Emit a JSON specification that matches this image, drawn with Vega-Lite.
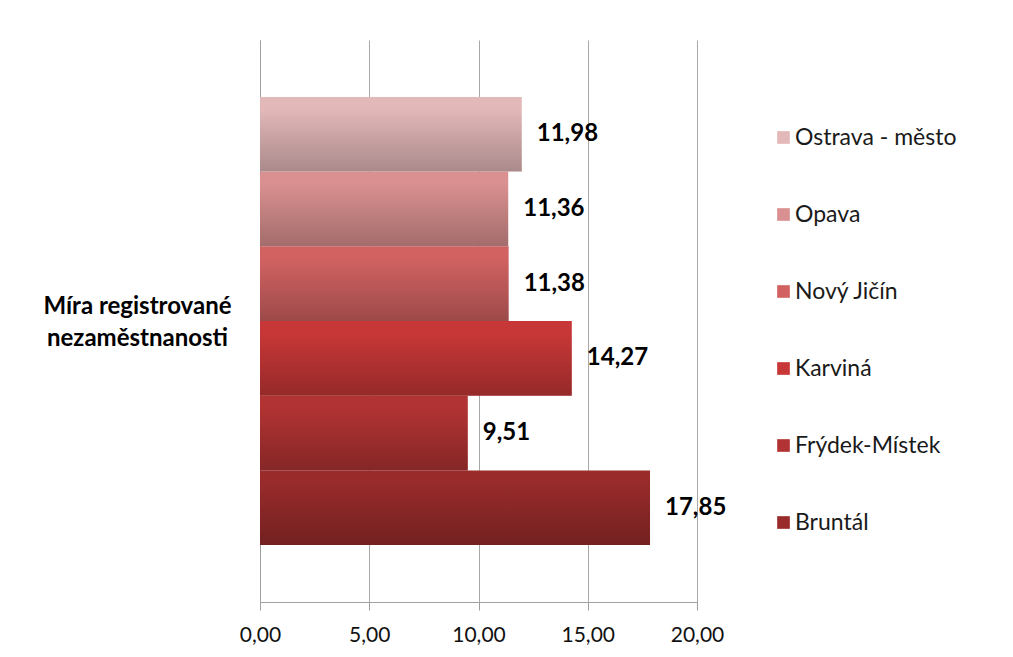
{
  "$schema": "https://vega.github.io/schema/vega-lite/v6.json",
  "width": 437,
  "height": 562,
  "autosize": {"type": "none"},
  "padding": {"left": 260, "top": 40, "right": 316, "bottom": 55},
  "background": "white",
  "config": {
    "view": {"stroke": null},
    "locale": {"number": {"decimal": ",", "thousands": " ", "grouping": [3], "currency": ["", " Kč"]}},
    "font": "Lato"
  },
  "data": {
    "values": [
      {"kategorie": "Míra registrované nezaměstnanosti", "okres": "Bruntál", "hodnota": 17.85},
      {"kategorie": "Míra registrované nezaměstnanosti", "okres": "Frýdek-Místek", "hodnota": 9.51},
      {"kategorie": "Míra registrované nezaměstnanosti", "okres": "Karviná", "hodnota": 14.27},
      {"kategorie": "Míra registrované nezaměstnanosti", "okres": "Nový Jičín", "hodnota": 11.38},
      {"kategorie": "Míra registrované nezaměstnanosti", "okres": "Opava", "hodnota": 11.36},
      {"kategorie": "Míra registrované nezaměstnanosti", "okres": "Ostrava - město", "hodnota": 11.98}
    ]
  },
  "encoding": {
    "x": {
      "field": "hodnota",
      "type": "quantitative",
      "scale": {"domain": [0, 20], "nice": false},
      "axis": {
        "title": null,
        "values": [0, 5, 10, 15, 20],
        "format": ".2f",
        "grid": true,
        "gridColor": "#a8a8a8",
        "gridWidth": 1,
        "domainColor": "#a0a0a0",
        "tickColor": "#a0a0a0",
        "tickSize": 8,
        "labelFlush": false,
        "labelFontSize": 21,
        "labelColor": "#111111",
        "labelPadding": 14,
        "labelFont": "Lato"
      }
    },
    "y": {
      "field": "kategorie",
      "type": "nominal",
      "scale": {"paddingInner": 0, "paddingOuter": 0.127},
      "axis": {
        "title": null,
        "ticks": false,
        "domainColor": "#a0a0a0",
        "labelAlign": "center",
        "labelPadding": 123,
        "labelFontSize": 24,
        "labelFontWeight": "bold",
        "labelLineHeight": 32,
        "labelOffset": -14,
        "labelColor": "#000000",
        "labelFont": "Lato",
        "labelLimit": 300,
        "labelExpr": "[slice(datum.label, 0, indexof(datum.label, ' nez')), slice(datum.label, indexof(datum.label, ' nez') + 1)]"
      }
    },
    "yOffset": {
      "field": "okres",
      "type": "nominal",
      "sort": ["Ostrava - město", "Opava", "Nový Jičín", "Karviná", "Frýdek-Místek", "Bruntál"],
      "scale": {"paddingInner": 0, "paddingOuter": 0}
    }
  },
  "layer": [
    {
      "mark": {"type": "bar"},
      "encoding": {
        "color": {
          "field": "okres",
          "type": "nominal",
          "sort": ["Ostrava - město", "Opava", "Nový Jičín", "Karviná", "Frýdek-Místek", "Bruntál"],
          "scale": {
            "domain": ["Ostrava - město", "Opava", "Nový Jičín", "Karviná", "Frýdek-Místek", "Bruntál"],
            "range": ["#e3b8b9", "#da9090", "#d26262", "#c83737", "#b23333", "#992b2b"]
          },
          "legend": {
            "title": null,
            "orient": "none",
            "legendX": 512,
            "legendY": 86,
            "symbolType": "square",
            "symbolSize": 160,
            "symbolStrokeWidth": 0,
            "labelFontSize": 23,
            "labelColor": "#1a1a1a",
            "labelFont": "Lato",
            "labelOffset": 0,
            "rowPadding": 53,
            "labelLimit": 300
          }
        }
      }
    },
    {
      "mark": {
        "type": "bar",
        "color": {
          "gradient": "linear",
          "x1": 0, "y1": 0, "x2": 0, "y2": 1,
          "stops": [
            {"offset": 0, "color": "rgba(0,0,0,0)"},
            {"offset": 0.15, "color": "rgba(0,0,0,0)"},
            {"offset": 1, "color": "rgba(0,0,0,0.25)"}
          ]
        }
      }
    },
    {
      "mark": {"type": "text", "align": "left", "baseline": "middle", "dx": 15, "fontSize": 24, "fontWeight": "bold", "color": "#000000", "font": "Lato"},
      "encoding": {
        "text": {"field": "hodnota", "type": "quantitative", "format": ".2f"}
      }
    }
  ]
}
